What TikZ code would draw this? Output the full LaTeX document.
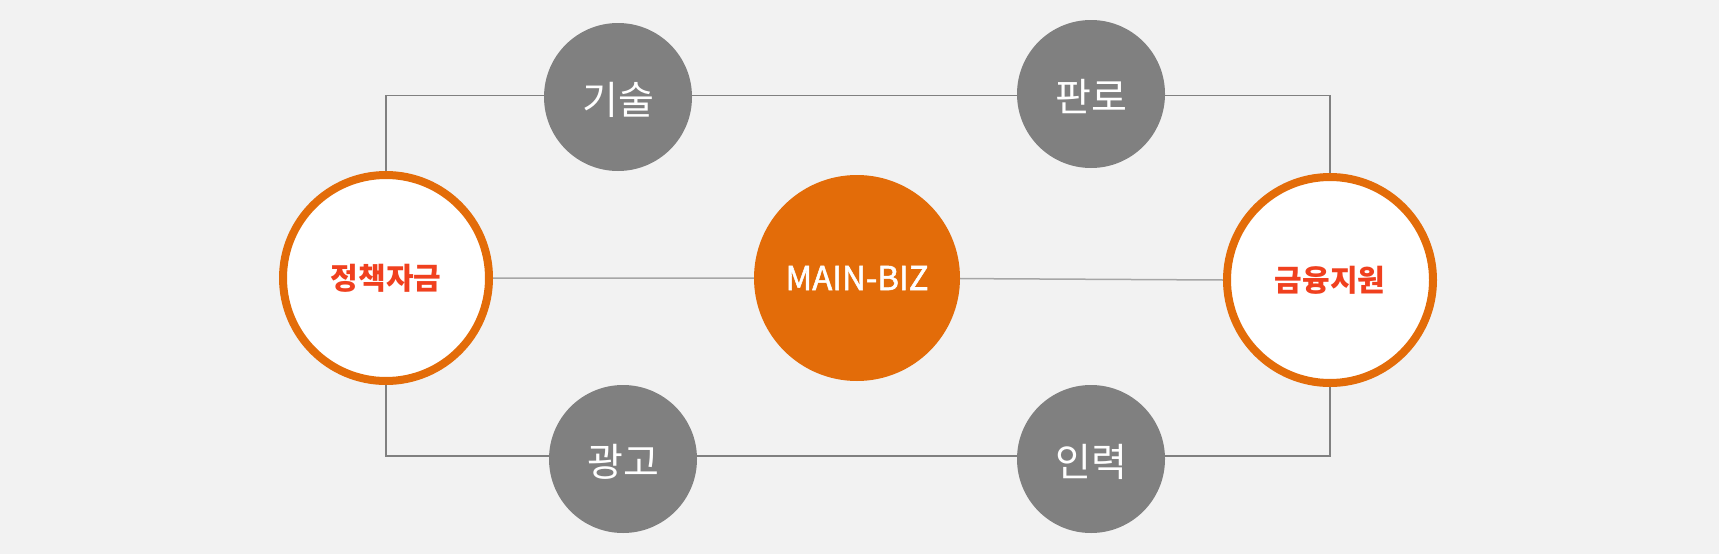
\documentclass[tikz,border=0pt]{standalone}
\usepackage{fontspec}
\newfontfamily\kr{Noto Sans CJK KR}
\newfontfamily\krmed[FakeBold=1.6]{Noto Sans CJK KR}
\usetikzlibrary{backgrounds}
\definecolor{bg}{HTML}{F2F2F2}
\definecolor{org}{HTML}{E36C09}
\definecolor{gry}{HTML}{808080}
\definecolor{lbl}{HTML}{F0401E}
\definecolor{mid}{HTML}{A6A6A6}
\tikzset{
  bigring/.style={circle,draw=org,line width=8pt,fill=white,minimum size=206pt,inner sep=0pt,
    font=\kr\bfseries\fontsize{30}{32}\selectfont,text=lbl},
  centerball/.style={circle,fill=org,minimum size=206pt,inner sep=0pt,
    font=\krmed\fontsize{33}{35}\selectfont,text=white},
  smallball/.style={circle,fill=gry,minimum size=148pt,inner sep=0pt,
    text height=40pt,text depth=5pt,
    font=\kr\fontsize{39}{41}\selectfont,text=white},
  link/.style={draw=gry,line width=1.5pt},
  midlink/.style={draw=mid,line width=1.5pt}
}
\begin{document}
\begin{tikzpicture}[x=1pt,y=-1pt]
\useasboundingbox (0,0) rectangle (1719,554);
\node[bigring] (L) at (386,278) {정책자금};
\node[centerball] (C) at (857,278) {MAIN-BIZ};
\node[bigring] (R) at (1330,280) {금융지원};
\node[smallball] (TL) at (618,97) {기술};
\node[smallball] (TR) at (1091,94) {판로};
\node[smallball] (BL) at (623,459) {광고};
\node[smallball] (BR) at (1091,459) {인력};
\coordinate (tl) at (386,95.5);
\coordinate (tr) at (1330,95.5);
\coordinate (bl) at (386,456);
\coordinate (br) at (1330,456);
\begin{scope}[on background layer]
\fill[bg] (0,0) rectangle (1719,554);
\draw[link] (L.north) -- (tl) -- (tl -| TL) -- (tr -| TR) -- (tr) -- (R.north);
\draw[link] (L.south) -- (bl) -- (bl -| BL) -- (br -| BR) -- (br) -- (R.south);
\draw[midlink] (L.east) -- (C) -- (R.west);
\end{scope}
\end{tikzpicture}
\end{document}
